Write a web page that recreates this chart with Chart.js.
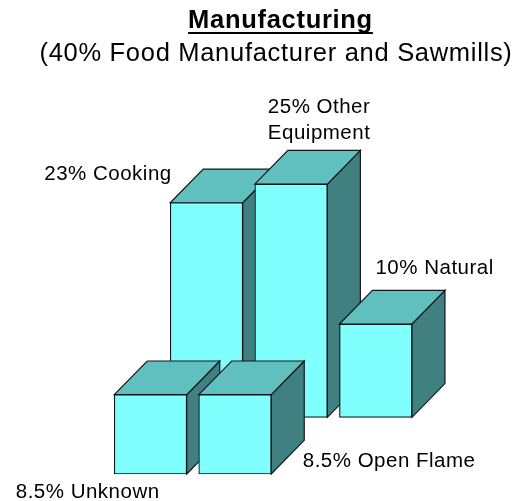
<!DOCTYPE html>
<html>
<head>
<meta charset="utf-8">
<style>html,body{margin:0;padding:0;background:#fff}canvas{display:block}</style>
<script src="https://cdn.jsdelivr.net/npm/chart.js@4"></script>
</head>
<body>
<canvas id="c" width="521" height="501"></canvas>
<script>
const titleText = 'Manufacturing';
const subtitleText = '(40% Food Manufacturer and Sawmills)';
const backCategories = ['Cooking', 'Other Equipment', 'Natural'];
const backValues = [23, 25, 10];
const backLabels = [['23% Cooking'], ['25% Other', 'Equipment'], ['10% Natural']];
const frontCategories = ['Unknown', 'Open Flame'];
const frontValues = [8.5, 8.5];
const frontLabels = [['8.5% Unknown'], ['8.5% Open Flame']];

const FRONT = '#80ffff', TOP = '#60c0c0', SIDE = '#408080', LINE = '#101818';
const DEPTH_X = 33, DEPTH_Y = 33.7;
const FONT = '"Liberation Sans", Arial, sans-serif';

class Bar3DController extends Chart.BarController {
  draw() {
    const ctx = this.chart.ctx;
    const poly = (pts, fill) => {
      ctx.beginPath();
      pts.forEach((p, i) => i ? ctx.lineTo(p[0], p[1]) : ctx.moveTo(p[0], p[1]));
      ctx.closePath();
      ctx.fillStyle = fill;
      ctx.fill();
      ctx.lineWidth = 1.2;
      ctx.strokeStyle = LINE;
      ctx.stroke();
    };
    this._cachedMeta.data.forEach(el => {
      const l = el.x - el.width / 2, r = el.x + el.width / 2, t = el.y, b = el.base;
      ctx.save();
      poly([[r, t], [r + DEPTH_X, t - DEPTH_Y], [r + DEPTH_X, b - DEPTH_Y], [r, b]], SIDE);
      poly([[l, t], [l + DEPTH_X, t - DEPTH_Y], [r + DEPTH_X, t - DEPTH_Y], [r, t]], TOP);
      ctx.restore();
      el.draw(ctx);
    });
  }
}
Bar3DController.id = 'bar3d';
Bar3DController.defaults = {};
Bar3DController.overrides = Chart.BarController.overrides;
Chart.register(Bar3DController);

const labelOffsets = {
  back: [[-126, -22.7], [13, -70.7], [36, -50]],
  front: [[-98.5, 103], [104, 72.4]]
};

const positionPlugin = {
  id: 'positionPlugin',
  afterLayout(chart) {
    chart.boxes.forEach(box => {
      if (box.options && box.options.text === titleText) box.left += 40;
      if (box.options && box.options.text === subtitleText) box.left += 31;
    });
  },
  beforeDraw(chart) {
    chart.ctx.letterSpacing = '0.7px';
  },
  afterDatasetsDraw(chart) {
    const ctx = chart.ctx;
    ctx.save();
    ctx.font = '20.5px ' + FONT;
    ctx.letterSpacing = '0.5px';
    ctx.fillStyle = '#000';
    ctx.textBaseline = 'alphabetic';
    ctx.textAlign = 'left';
    const put = (datasetIndex, labels, offs) => {
      chart.getDatasetMeta(datasetIndex).data.forEach((el, i) => {
        const l = el.x - el.width / 2;
        labels[i].forEach((line, n) => {
          ctx.fillText(line, l + offs[i][0], el.y + offs[i][1] + n * 25.5);
        });
      });
    };
    put(0, frontLabels, labelOffsets.front);
    put(1, backLabels, labelOffsets.back);
    // underline of the title
    ctx.font = 'bold 25.5px ' + FONT;
    ctx.letterSpacing = '0.7px';
    const w = ctx.measureText(titleText).width;
    const box = chart.boxes.find(b => b.options && b.options.text === titleText);
    const cx = (box.left + box.right) / 2;
    ctx.fillRect(cx - w / 2, 32, w, 2);
    ctx.restore();
  }
};

new Chart(document.getElementById('c'), {
  type: 'bar3d',
  data: {
    datasets: [
      {
        label: 'Front row',
        order: 1,
        grouped: false,
        data: frontValues.map((y, x) => ({ x, y, category: frontCategories[x] })),
        xAxisID: 'xFront', yAxisID: 'yFront',
        backgroundColor: FRONT, borderColor: LINE, borderWidth: 1.2, borderSkipped: false,
        barThickness: 72.5, clip: false
      },
      {
        label: 'Back row',
        order: 2,
        grouped: false,
        data: backValues.map((y, x) => ({ x, y, category: backCategories[x] })),
        xAxisID: 'xBack', yAxisID: 'yBack',
        backgroundColor: FRONT, borderColor: LINE, borderWidth: 1.2, borderSkipped: false,
        barThickness: 72.5, clip: false
      }
    ]
  },
  options: {
    responsive: false,
    animation: false,
    layout: { padding: { left: 0, right: 0, top: 0, bottom: 27 } },
    plugins: {
      legend: { display: false },
      tooltip: { enabled: false },
      title: {
        display: true, text: titleText, color: '#000',
        font: { family: FONT, size: 25.5, weight: 'bold', lineHeight: 1 },
        padding: { top: 8.5, bottom: 0 }
      },
      subtitle: {
        display: true, text: subtitleText, color: '#000',
        font: { family: FONT, size: 25.5, weight: 'normal', lineHeight: 1 },
        padding: { top: 7.5, bottom: 0 }
      }
    },
    scales: {
      xFront: { type: 'linear', axis: 'x', display: false, offset: false, min: -1.781, max: 4.385 },
      yFront: { type: 'linear', axis: 'y', display: false, min: 0, max: 43.62 },
      xBack: { type: 'linear', axis: 'x', display: false, offset: false, min: -2.441, max: 3.7175 },
      yBack: { type: 'linear', axis: 'y', display: false, min: -6.077, max: 37.55 }
    }
  },
  plugins: [positionPlugin]
});
</script>
</body>
</html>
